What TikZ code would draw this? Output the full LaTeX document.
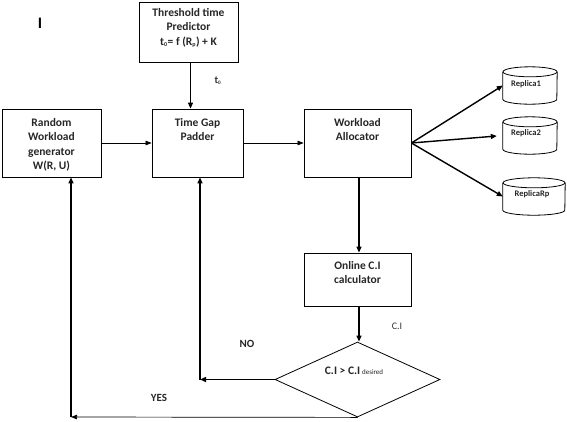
\documentclass[tikz,border=0pt]{standalone}
\usepackage{fontspec}
\setmainfont{Carlito}
\usetikzlibrary{shapes.geometric,arrows.meta}
\begin{document}
\begin{tikzpicture}[x=1pt,y=-1pt,
  box/.style={draw,line width=0.8pt,inner sep=0pt},
  lbl/.style={font=\bfseries\fontsize{11.5}{14.5}\selectfont,align=center,anchor=north,inner sep=0pt,text=black!85},
  small/.style={font=\bfseries\fontsize{8.5}{10}\selectfont,inner sep=0pt,text=black!85},
  note/.style={font=\fontsize{10}{12}\selectfont,inner sep=0pt,text=black!80},
  bnote/.style={font=\bfseries\fontsize{11}{13}\selectfont,inner sep=0pt,text=black!85},
  arr/.style={line width=1.4pt,-{Triangle[length=6pt,width=5pt]}},
  thinarr/.style={line width=0.7pt,-{Triangle[length=6pt,width=4.5pt]}},
  cyl/.style={draw=none,inner sep=0pt}]
\useasboundingbox (0,0) rectangle (567,421);

% boxes
\node[box,minimum width=99pt,minimum height=60pt] (thr) at (188.5,32) {};
\node[box,minimum width=99pt,minimum height=68pt] (rnd) at (51.5,143) {};
\node[box,minimum width=91pt,minimum height=68pt] (pad) at (197.5,143) {};
\node[box,minimum width=107pt,minimum height=68pt] (wl) at (357.5,143) {};
\node[box,minimum width=107pt,minimum height=53pt] (onl) at (357.5,279.5) {};
\node[draw,diamond,line width=0.8pt,inner sep=0pt,minimum width=165pt,minimum height=75pt] (dia) at (357.5,379.5) {};

% box texts
\node[lbl] (thrt) at (188.5,8) {Threshold time\\Predictor\\t{\fontsize{8}{8}\selectfont\textsubscript{0}}= f (R{\fontsize{8}{8}\selectfont\textsubscript{p}}) + K};
\node[lbl] (rndt) at (51.5,118) {Random\\Workload\\generator\\W(R, U)};
\node[lbl] (padt) at (197.5,118) {Time Gap\\Padder};
\node[lbl] (wlt) at (357.5,118) {Workload\\Allocator};
\node[lbl] (onlt) at (357.5,261) {Online C.I\\calculator};
\node[inner sep=0pt,text=black!85] (diat) at (354,371) {\bfseries\fontsize{11.5}{14}\selectfont C.I > C.I\,{\mdseries\fontsize{7}{8}\selectfont desired}};

% cylinders
\node[cyl,minimum width=54pt,minimum height=37pt] (r1) at (530,85.5) {};
\node[cyl,minimum width=54pt,minimum height=37pt] (r2) at (530,135.5) {};
\node[cyl,minimum width=62pt,minimum height=37pt] (r3) at (534,196.5) {};
\foreach \c/\rx in {r1/27,r2/27,r3/31}{
  \draw[line width=0.8pt] ([yshift=-5pt]\c.north) ellipse [x radius=\rx pt, y radius=5pt];
  \draw[line width=0.8pt] ([yshift=-5pt]\c.north west) -- ([yshift=5pt]\c.south west)
     arc[start angle=180,end angle=360,x radius=\rx pt,y radius=5pt] -- ([yshift=-5pt]\c.north east);
}
\node[small] (r1t) at ([xshift=-4pt,yshift=1pt]r1.center) {Replica1};
\node[small] (r2t) at ([xshift=-4pt,yshift=2pt]r2.center) {Replica2};
\node[small] (r3t) at ([xshift=-2pt,yshift=2pt]r3.center) {ReplicaRp};

% connectors
\draw[arr] ([xshift=2pt]thr.south) -- ([xshift=2pt]thr.south |- pad.north);
\draw[thinarr] (rnd.east) -- (pad.west);
\draw[thinarr] (pad.east) -- (wl.west);
\draw[arr] (wl.east) -- (r1.west);
\draw[arr,shorten >=6pt] (wl.east) -- (r2.west);
\draw[arr] (wl.east) -- (r3.west);
\draw[arr] ([xshift=1.5pt]wl.south) -- ([xshift=1.5pt]onl.north);
\draw[arr] ([xshift=1.5pt]onl.south) -- ([xshift=1.5pt]dia.north);
\coordinate (nocorner) at ([xshift=2.5pt]pad.south |- dia.west);
\draw[arr] (dia.west) -- (nocorner);
\draw[arr] (nocorner) -- (nocorner |- pad.south);
\coordinate (yescorner) at (71,417);
\draw[thinarr] (dia.south) -- (yescorner);
\draw[arr] (yescorner) -- (yescorner |- rnd.south);

% labels
\node[note,font=\bfseries\fontsize{10.5}{12}\selectfont] (t0) at (218,81) {t{\fontsize{7.5}{8}\selectfont\textsubscript{0}}};
\node[note] (ci) at (397,326) {C.I};
\node[bnote] (no) at (247,344) {NO};
\node[bnote] (yes) at (159,398) {YES};
\node[inner sep=0pt,font=\bfseries\fontsize{16}{17}\selectfont] (cur) at (40,23) {I};
\end{tikzpicture}
\end{document}
